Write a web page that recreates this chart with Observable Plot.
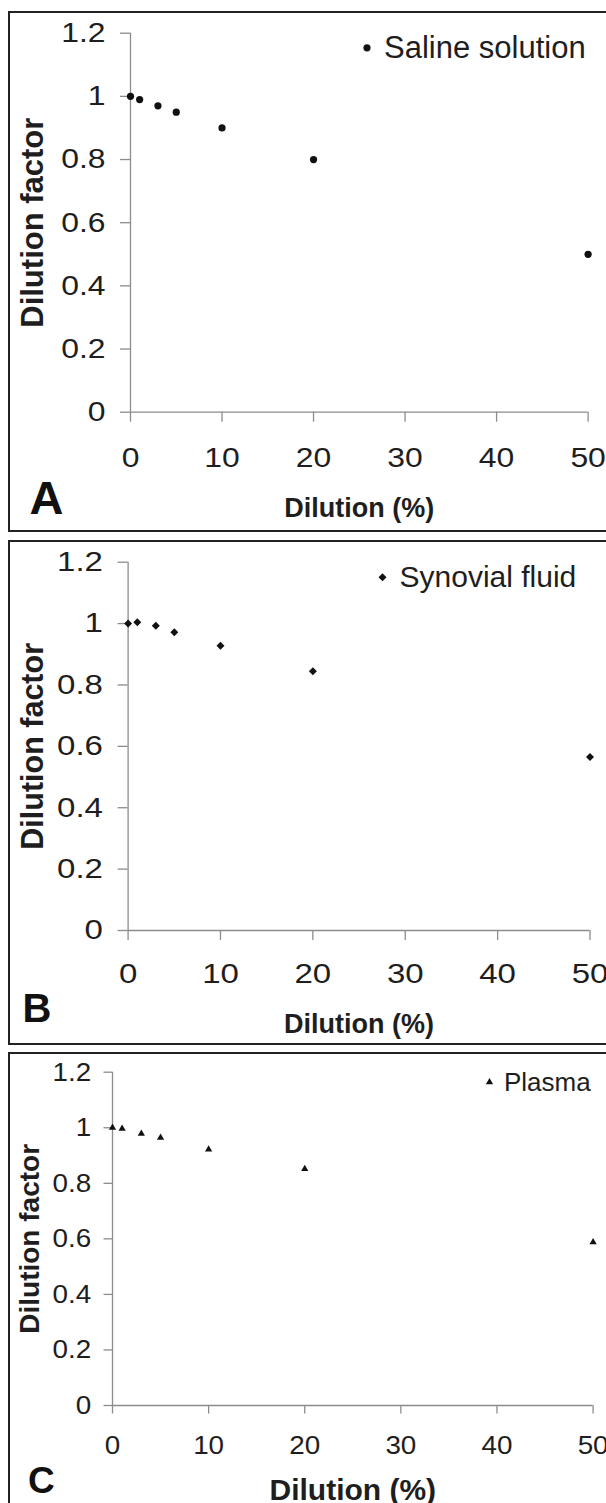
<!DOCTYPE html>
<html><head><meta charset="utf-8">
<script src="https://cdn.jsdelivr.net/npm/d3@7"></script>
<script src="https://cdn.jsdelivr.net/npm/@observablehq/plot@0.6"></script>
<style>
html,body{margin:0;padding:0;background:#fff;width:606px;height:1503px;overflow:hidden;position:relative;}
.svgwrap{position:absolute;left:0;width:606px;}
.frame{position:absolute;left:8px;width:700px;border:2px solid #222;box-sizing:border-box;pointer-events:none;}
</style></head><body>
<div id="root"></div>
<script>
// ---- data ----
const dilution = [0, 1, 3, 5, 10, 20, 50];
const saline   = [1.0, 0.99, 0.97, 0.95, 0.90, 0.80, 0.50];
const synovial = [1.0, 1.004, 0.993, 0.972, 0.928, 0.845, 0.565];
const plasma   = [1.0, 0.997, 0.979, 0.964, 0.922, 0.852, 0.588];
const xTicks = [0, 10, 20, 30, 40, 50];
const yTicks = [0, 0.2, 0.4, 0.6, 0.8, 1, 1.2];
const seriesNames = ["Saline solution", "Synovial fluid", "Plasma"];
const panelLetters = ["A", "B", "C"];
const xTitle = "Dilution (%)";
const yTitle = "Dilution factor";

const FONT = "'Liberation Sans', Arial, Helvetica, sans-serif";
const INK = "#1e1e1e";
const AXIS = "#8c8c8c";

const panels = [
  {values: saline, name: seriesNames[0], letter: panelLetters[0], symbol: "circle", r: 3.6,
   top: 11, height: 520, ml: 130, mr: 18.4, mt: 21.7, mb: 119.3,
   tickSize: 10, yPad: 15, xPad: 25.3, tickFont: 27.5, tickScale: 1.16,
   xtFont: 27, xtScale: 1.15, xtDy: 96.2,
   ltFont: 47, ltScale: 1.0, ltDx: -101, ltDy: 86.3,
   ytFont: 31, ytScale: 1.0, ytDx: -97.4,
   lgDx: 236.5, lgDy: 14.6, lgTextDx: 253.5, lgFont: 31,
   frameTop: 11, frameH: 521},
  {values: synovial, name: seriesNames[1], letter: panelLetters[1], symbol: "diamond2", r: 3.6,
   top: 541, height: 504, ml: 127.6, mr: 16.5, mt: 20.7, mb: 115,
   tickSize: 10, yPad: 15.2, xPad: 23.3, tickFont: 27.5, tickScale: 1.2,
   xtFont: 27, xtScale: 1.14, xtDy: 93.4,
   ltFont: 40, ltScale: 1.4, ltDx: -105.6, ltDy: 78.7,
   ytFont: 30.5, ytScale: 1.0, ytDx: -94.9,
   lgDx: 254.4, lgDy: 15, lgTextDx: 271.4, lgFont: 30,
   frameTop: 540, frameH: 505},
  {values: plasma, name: seriesNames[2], letter: panelLetters[2], symbol: "triangle", r: 2.7,
   top: 1053, height: 450, ml: 112, mr: 13.4, mt: 18.7, mb: 98,
   tickSize: 8.5, yPad: 12.7, xPad: 21.5, tickFont: 26.5, tickScale: 1.05,
   xtFont: 30, xtScale: 0.9, xtDy: 84.4,
   ltFont: 37, ltScale: 1.1, ltDx: -84.5, ltDy: 75.2,
   ytFont: 28, ytScale: 0.96, ytDx: -82.3,
   lgDx: 377, lgDy: 10, lgTextDx: 391.4, lgFont: 26,
   frameTop: 1052, frameH: 500}
];

function stretch(svg, label, s) {
  if (s === 1) return;
  svg.querySelectorAll(`g[aria-label="${label}"] text`).forEach(t => {
    t.setAttribute("transform", (t.getAttribute("transform") || "") + ` scale(${s},1)`);
  });
}

const root = document.getElementById("root");

panels.forEach(p => {
  const svg = Plot.plot({
    width: 606,
    height: p.height,
    marginLeft: p.ml, marginRight: p.mr, marginTop: p.mt, marginBottom: p.mb,
    style: {fontFamily: FONT, background: "transparent", overflow: "visible"},
    x: {domain: [0, 50]},
    y: {domain: [0, 1.2]},
    marks: [
      Plot.ruleX([0], {stroke: AXIS, strokeWidth: 1.3}),
      Plot.ruleY([0], {stroke: AXIS, strokeWidth: 1.3}),
      Plot.axisY(yTicks, {tickSize: p.tickSize, tickPadding: p.yPad, stroke: AXIS, strokeWidth: 1.3,
        fill: INK, fontSize: p.tickFont, tickFormat: d => String(d), label: null}),
      Plot.axisX(xTicks, {tickSize: p.tickSize, tickPadding: p.xPad, stroke: AXIS, strokeWidth: 1.3,
        fill: INK, fontSize: p.tickFont, tickFormat: d => String(d), label: null}),
      Plot.dot(dilution, {x: d => d, y: (d, i) => p.values[i], symbol: p.symbol, r: p.r, fill: "#111", stroke: "none"}),
      // legend
      Plot.dot([p.name], {frameAnchor: "top-left", dx: p.lgDx, dy: p.lgDy, symbol: p.symbol, r: p.r, fill: "#111", stroke: "none"}),
      Plot.text([p.name], {text: d => d, frameAnchor: "top-left", dx: p.lgTextDx, dy: p.lgDy,
        textAnchor: "start", lineAnchor: "middle",
        fontSize: p.lgFont, fill: INK, ariaLabel: "legend-text"}),
      // axis titles
      Plot.text([xTitle], {text: d => d, frameAnchor: "bottom", dy: p.xtDy, textAnchor: "middle", lineAnchor: "middle",
        fontSize: p.xtFont, fontWeight: "bold", fill: INK, ariaLabel: "x-title"}),
      Plot.text([yTitle], {text: d => d, frameAnchor: "left", dx: p.ytDx, rotate: -90, textAnchor: "middle", lineAnchor: "middle",
        fontSize: p.ytFont, fontWeight: "bold", fill: INK, ariaLabel: "y-title"}),
      // panel letter
      Plot.text([p.letter], {text: d => d, frameAnchor: "bottom-left", dx: p.ltDx, dy: p.ltDy,
        textAnchor: "start", lineAnchor: "middle",
        fontSize: p.ltFont, fontWeight: "bold", fill: "#111", ariaLabel: "panel-letter"})
    ]
  });
  stretch(svg, "y-axis tick label", p.tickScale);
  stretch(svg, "x-axis tick label", p.tickScale);
  stretch(svg, "x-title", p.xtScale);
  stretch(svg, "y-title", p.ytScale);
  stretch(svg, "panel-letter", p.ltScale);

  const wrap = document.createElement("div");
  wrap.className = "svgwrap";
  wrap.style.top = p.top + "px";
  wrap.appendChild(svg);
  root.appendChild(wrap);

  const frame = document.createElement("div");
  frame.className = "frame";
  frame.style.top = p.frameTop + "px";
  frame.style.height = p.frameH + "px";
  root.appendChild(frame);
});
</script></body></html>
